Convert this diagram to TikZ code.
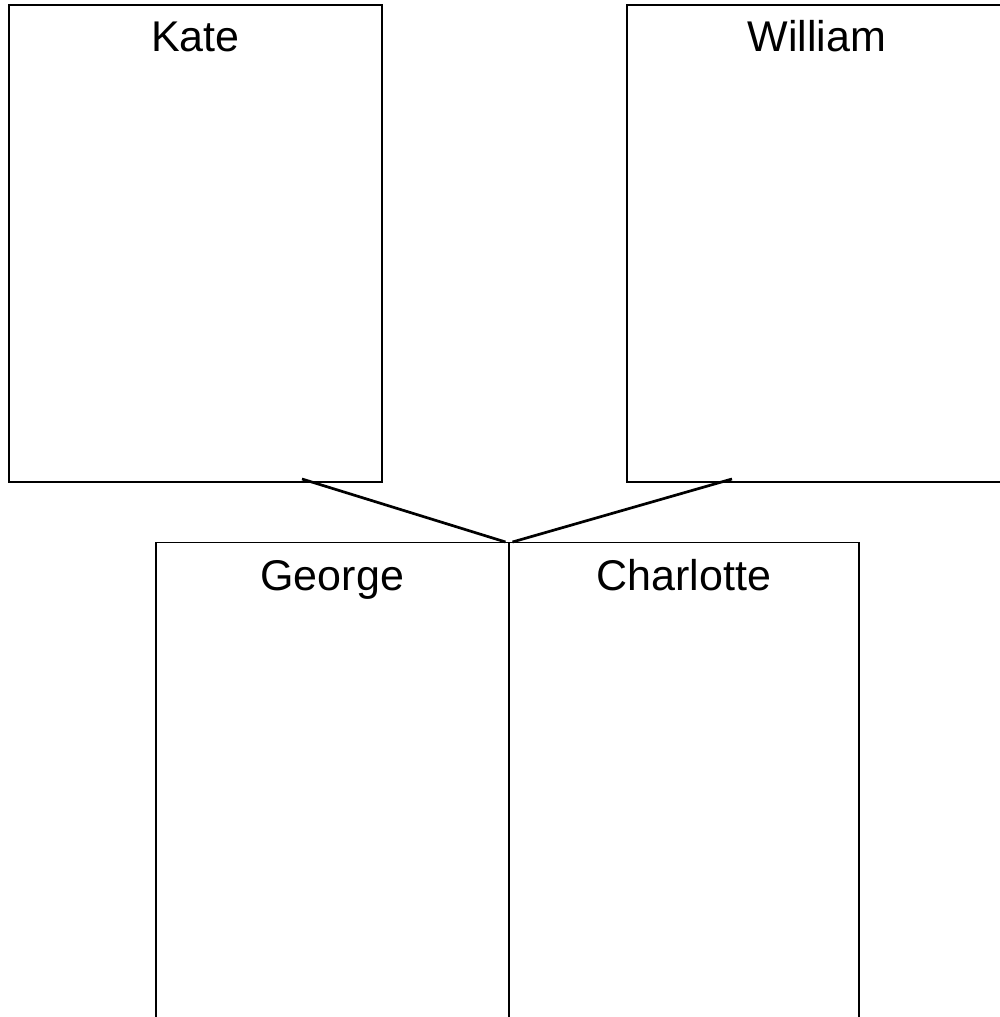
\documentclass[tikz,border=0pt]{standalone}
\usepackage{fontspec}
\setmainfont{Liberation Sans}
\usetikzlibrary{positioning,calc}
\tikzstyle{parentbox} = [draw, rectangle, line width=2pt, minimum width=373pt, minimum height=477pt, inner sep=0pt]
\tikzstyle{childbox} = [draw, rectangle, line width=1.5pt, minimum height=540pt, inner sep=0pt]
\tikzstyle{namelbl} = [anchor=base, inner sep=0pt, font=\fontsize{43}{50}\selectfont]
\tikzstyle{link} = [draw, line width=2.7pt]

\begin{document}
\begin{tikzpicture}[x=1pt, y=1pt]
    \clip (0,0) rectangle (1000,1017);
    \fill [white] (0,0) rectangle (1000,1017);

    % parents
    \node [parentbox] (kate) at (195.5,773.5) {};
    \node [parentbox, minimum width=380pt] (william) at (817,773.5) {};
    \node [namelbl] (katelbl) at ($(kate.north)+(0,-48)$) {Kate};
    \node [namelbl] (williamlbl) at ($(william.north)+(0,-48)$) {William};

    % children
    \node [childbox, minimum width=353pt, anchor=north west] (george) at (155,475) {};
    \node [childbox, minimum width=350pt, anchor=north west] (charlotte) at (508,475) {};
    \node [namelbl] (georgelbl) at ($(george.north)+(0,-49)$) {George};
    \node [namelbl] (charlottelbl) at ($(charlotte.north)+(0,-49)$) {Charlotte};

    \coordinate (join) at (george.north east);
    \path [link] ($(kate.south)+(106.5,4)$) -- ($(join)+(-4,0)$);
    \path [link] ($(william.south)+(-85,4)$) -- ($(join)+(3,0)$);
\end{tikzpicture}
\end{document}
